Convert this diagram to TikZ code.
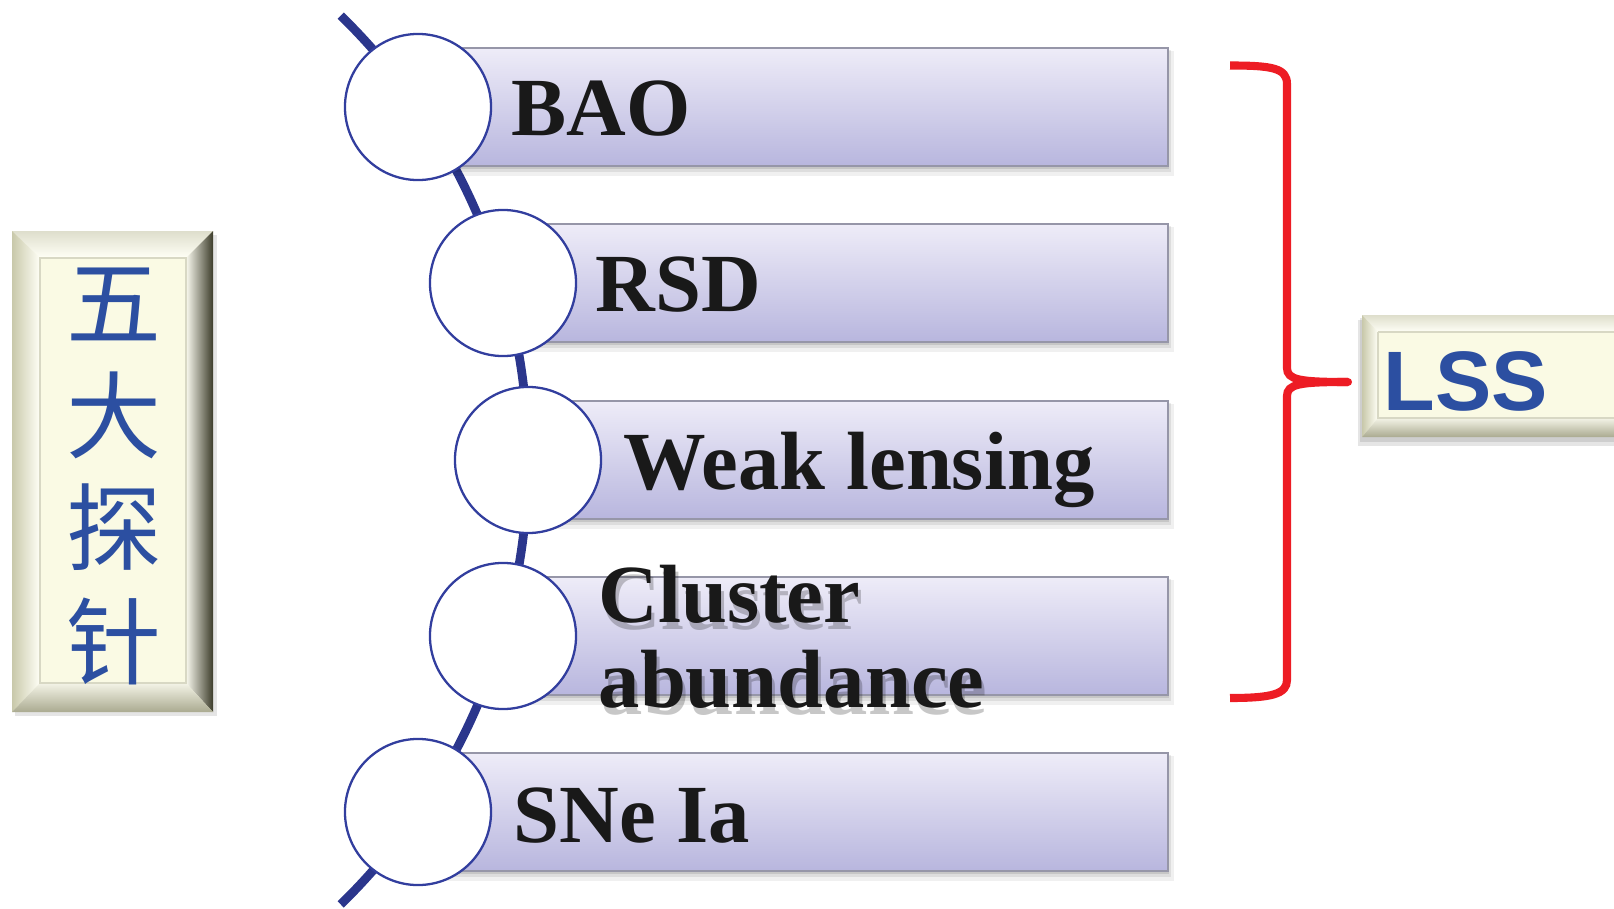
\documentclass[tikz,border=0pt]{standalone}
\usepackage{fontspec}
\setmainfont{Liberation Serif}
\newfontfamily\cjkfont{Noto Sans CJK SC}
\newfontfamily\lssfont{Liberation Sans}
\definecolor{spinecol}{RGB}{43,54,140}
\definecolor{circcol}{RGB}{50,62,158}
\definecolor{bartop}{RGB}{238,236,248}
\definecolor{barbot}{RGB}{184,182,222}
\definecolor{barline}{RGB}{150,150,168}
\definecolor{bracered}{RGB}{237,28,36}
\definecolor{bluetext}{RGB}{44,79,161}
\definecolor{cream}{RGB}{250,250,228}
\definecolor{bevlight}{RGB}{255,255,246}
\definecolor{bevmid}{RGB}{200,200,170}
\definecolor{bevdark}{RGB}{60,60,42}
\tikzset{
  spine/.style={draw=spinecol, line width=2.5pt},
  probecircle/.style={circle, draw=circcol, line width=0.65pt, fill=white, minimum size=1.46cm, inner sep=0pt},
  barshape/.style={draw=barline, line width=0.5pt, top color=bartop, bottom color=barbot},
  probetext/.style={anchor=base west, inner sep=0pt, text=black!90, font=\fontsize{23.5}{22}\selectfont\bfseries},
  shadowtext/.style={anchor=base west, inner sep=0pt, text=black, opacity=0.22, font=\fontsize{23.5}{22}\selectfont\bfseries},
  cjktext/.style={anchor=base, inner sep=0pt, text=bluetext, font=\cjkfont\fontsize{27}{27}\selectfont},
  bracestyle/.style={draw=bracered, line width=2.3pt}
}
\begin{document}
\begin{tikzpicture}[x=0.01cm,y=-0.01cm]
\useasboundingbox (0,0) rectangle (1614,909);

% spine
\draw[spine] (340.7,15.6) arc[start angle=-45.7, end angle=45.7, radius=621];

% bars with shadows
\foreach \lx/\ty in {418/48, 502/224, 528/401, 502/577, 418/753}{
  \fill[black, opacity=0.06] (\lx,\ty+3) rectangle (1174,\ty+128);
  \fill[black, opacity=0.08] (\lx,\ty+2) rectangle (1171,\ty+124);
  \fill[black, opacity=0.10] (\lx,\ty+1) rectangle (1169,\ty+121);
  \path[barshape] (\lx,\ty) rectangle (1168,\ty+118);
}

% circles
\node[probecircle] (c1) at (418,107) {};
\node[probecircle] (c2) at (503,283) {};
\node[probecircle] (c3) at (528,460) {};
\node[probecircle] (c4) at (503,636) {};
\node[probecircle] (c5) at (418,812) {};

% texts
\node[probetext] (t1) at (511,135) {BAO};
\node[probetext] (t2) at (595,311) {RSD};
\node[probetext] (t3) at (623,489) {Weak lensing};
\node[shadowtext] (s4a) at (601,629) {Cluster};
\node[shadowtext] (s4b) at (601,714) {abundance};
\node[probetext] (t4a) at (598,622) {Cluster};
\node[probetext] (t4b) at (598,707) {abundance};
\node[probetext] (t5) at (513,842) {SNe Ia};

% left bevel box
\fill[black, opacity=0.10] (15,235) rectangle (217,716);
\fill[cream] (12,231) rectangle (213,712);
\shade[top color=bevmid!60, bottom color=bevlight] (12,231) -- (213,231) -- (186,258) -- (40,258) -- cycle;
\shade[left color=bevmid, right color=bevlight] (12,231) -- (40,258) -- (40,683) -- (12,712) -- cycle;
\shade[left color=bevlight!90!bevmid, right color=bevdark] (213,231) -- (186,258) -- (186,683) -- (213,712) -- cycle;
\shade[top color=bevlight!80!bevmid, bottom color=bevmid!85!black] (12,712) -- (40,683) -- (186,683) -- (213,712) -- cycle;
\fill[cream] (40,258) rectangle (186,683);
\draw[bevmid!70, line width=0.3pt] (40,258) rectangle (186,683);
\node[cjktext] (k1) at (114,338) {五};
\node[cjktext] (k2) at (114,451) {大};
\node[cjktext] (k3) at (114,563) {探};
\node[cjktext] (k4) at (114,677) {针};

% LSS bevel box
\fill[black, opacity=0.10] (1358,320) rectangle (1620,446);
\fill[black, opacity=0.10] (1360,318) rectangle (1620,442);
\fill[cream] (1362,315) rectangle (1620,437);
\shade[top color=bevmid!60, bottom color=bevlight] (1362,315) -- (1620,315) -- (1620,332) -- (1378,332) -- cycle;
\shade[left color=bevmid, right color=bevlight] (1362,315) -- (1378,332) -- (1378,418) -- (1362,437) -- cycle;
\shade[top color=bevlight!80!bevmid, bottom color=bevmid!85!black] (1362,437) -- (1378,418) -- (1620,418) -- (1620,437) -- cycle;
\fill[cream] (1378,332) rectangle (1620,418);
\draw[bevmid!70, line width=0.3pt] (1378,332) -- (1620,332) (1378,332) -- (1378,418) -- (1620,418);
\node[anchor=base west, inner sep=0pt, text=bluetext, font=\lssfont\bfseries\fontsize{24}{24}\selectfont] (lss) at (1383,410) {LSS};

% brace
\coordinate (brTop) at (1230,65.5);
\coordinate (brTip) at (1348,382);
\coordinate (brBot) at (1230,698);
\draw[bracestyle] (brTop) .. controls (1272,65.5) and (1287,68) .. (1287,84)
  -- (1287,368) .. controls (1287,380) and (1300,382) .. (brTip);
\draw[bracestyle, line cap=round] (brTip) -- (1330,382);
\draw[bracestyle] (brTip) .. controls (1300,382) and (1287,384) .. (1287,396)
  -- (1287,680) .. controls (1287,694) and (1272,698) .. (brBot);
\end{tikzpicture}
\end{document}
